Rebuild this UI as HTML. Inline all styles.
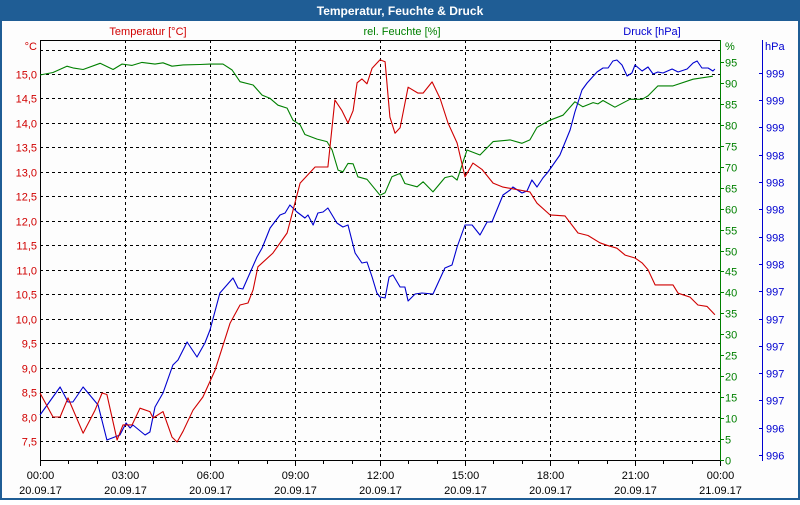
<!DOCTYPE html>
<html><head><meta charset="utf-8"><style>
html,body{margin:0;padding:0;background:#fff;}
body{width:800px;height:500px;overflow:hidden;font-family:"Liberation Sans",sans-serif;}
</style></head><body>
<svg id="chart" width="800" height="500" viewBox="0 0 800 500" xmlns="http://www.w3.org/2000/svg" font-family="Liberation Sans, sans-serif" font-size="11">
<rect x="0" y="0" width="800" height="500" fill="#1f5d95"/>
<rect x="2" y="21" width="796" height="477" fill="#fdfdfd"/>
<text x="400" y="15" text-anchor="middle" fill="#fff" font-weight="bold" font-size="12">Temperatur, Feuchte &amp; Druck</text>
<text x="148" y="35" text-anchor="middle" fill="#d00000">Temperatur [°C]</text>
<text x="402" y="35" text-anchor="middle" fill="#008000">rel. Feuchte [%]</text>
<text x="652" y="35" text-anchor="middle" fill="#0000d0">Druck [hPa]</text>
<text x="37" y="50" text-anchor="end" fill="#d00000">°C</text>
<text x="725" y="50" fill="#008000">%</text>
<text x="765" y="50" fill="#0000d0">hPa</text>
<g id="grid"></g>
<g id="axes"></g>
<g id="series"></g>
</svg>
<script>
const tempTimes=[0,0.46,0.71,0.99,1.52,1.94,2.19,2.36,2.72,2.93,3.25,3.53,3.88,3.99,4.34,4.66,4.84,5.05,5.4,5.75,6.18,6.71,7.06,7.34,7.52,7.69,8.22,8.72,9.18,9.71,10.16,10.41,10.66,10.87,11.05,11.19,11.36,11.54,11.72,12.0,12.18,12.35,12.53,12.71,12.99,13.34,13.52,13.84,14.12,14.4,14.72,15.0,15.28,15.6,15.99,16.34,17.29,17.54,18.0,18.53,18.99,19.34,19.76,20.01,20.36,20.65,21.0,21.25,21.46,21.71,22.34,22.52,22.94,23.22,23.54,23.82];
const tempValues=[8.48,7.99,7.99,8.38,7.66,8.13,8.48,8.45,7.52,7.83,7.83,8.17,8.1,7.97,8.1,7.58,7.48,7.7,8.13,8.4,8.95,9.91,10.28,10.32,10.59,11.06,11.34,11.75,12.77,13.1,13.1,14.47,14.25,14.0,14.25,14.82,14.9,14.8,15.12,15.29,15.25,14.12,13.79,13.9,14.73,14.61,14.61,14.84,14.5,14.0,13.59,12.9,13.18,13.05,12.77,12.69,12.59,12.36,12.12,12.1,11.75,11.7,11.55,11.5,11.44,11.3,11.24,11.14,11.0,10.69,10.69,10.52,10.44,10.28,10.25,10.08];
const humTimes=[0,0.46,0.95,1.16,1.52,2.12,2.58,2.89,3.25,3.6,4.06,4.34,4.66,5.05,5.65,6.0,6.46,6.78,7.06,7.52,7.84,8.12,8.4,8.72,8.93,9.18,9.35,9.78,10.13,10.31,10.52,10.69,10.87,11.05,11.22,11.54,12.0,12.18,12.42,12.71,12.88,13.31,13.52,13.87,14.29,14.54,14.72,15.07,15.53,15.99,16.59,17.01,17.29,17.54,18.0,18.46,18.88,19.16,19.52,19.69,19.87,20.29,20.82,21.25,21.46,21.81,22.34,23.05,23.75];
const humValues=[91.9,92.5,94.0,93.6,93.2,94.7,93.2,94.5,94.2,94.9,94.5,94.8,94.0,94.3,94.4,94.5,94.5,93.1,90.3,89.5,87.1,86.3,84.7,84.0,81.1,80.0,77.7,76.6,76.0,74.0,69.2,68.8,70.8,70.7,67.6,67.0,63.2,63.8,67.6,68.4,66.0,65.2,66.4,64.0,67.4,67.8,66.8,74.0,72.8,76.0,76.4,75.6,76.4,79.4,81.1,82.3,85.5,84.3,85.3,85.0,85.8,84.2,86.1,86.1,86.9,89.3,89.3,90.9,91.6];
const presTimes=[0,0.71,0.99,1.16,1.52,2.05,2.36,2.82,3.04,3.18,3.28,3.71,3.88,4.06,4.34,4.69,4.87,5.19,5.54,5.82,6.0,6.35,6.81,6.99,7.16,7.66,7.84,8.12,8.47,8.65,8.82,9.07,9.35,9.46,9.64,9.81,9.99,10.16,10.48,10.69,10.87,11.12,11.36,11.54,11.72,11.89,12.0,12.18,12.32,12.46,12.71,12.88,12.99,13.24,13.48,13.87,14.29,14.54,14.72,15.0,15.25,15.53,15.78,15.95,16.34,16.59,16.69,17.01,17.19,17.36,17.54,17.75,17.93,18.35,18.71,18.88,19.13,19.31,19.66,19.87,20.05,20.22,20.36,20.54,20.72,20.89,21.0,21.25,21.46,21.64,21.81,21.99,22.31,22.52,22.84,23.05,23.19,23.36,23.58,23.75,23.82];
const presValues=[996.40,996.68,996.53,996.53,996.68,996.5,996.15,996.2,996.32,996.27,996.3,996.2,996.23,996.48,996.62,996.9,996.95,997.13,996.98,997.12,997.25,997.62,997.77,997.67,997.66,997.98,998.07,998.27,998.4,998.42,998.5,998.43,998.37,998.4,998.3,998.42,998.43,998.47,998.32,998.28,998.3,998.02,997.92,997.93,997.78,997.62,997.58,997.57,997.78,997.8,997.68,997.68,997.54,997.61,997.62,997.61,997.87,997.9,998.08,998.3,998.3,998.2,998.33,998.33,998.6,998.65,998.68,998.62,998.64,998.75,998.68,998.77,998.83,999.0,999.25,999.43,999.65,999.72,999.83,999.87,999.87,999.94,999.95,999.9,999.79,999.82,999.9,999.84,999.88,999.81,999.83,999.82,999.86,999.83,999.86,999.92,999.94,999.87,999.87,999.84,999.86];
const tempTicks=["7,5","8,0","8,5","9,0","9,5","10,0","10,5","11,0","11,5","12,0","12,5","13,0","13,5","14,0","14,5","15,0"];
const humTicks=[0,5,10,15,20,25,30,35,40,45,50,55,60,65,70,75,80,85,90,95];
const presTicks=["996","996","997","997","997","997","997","998","998","998","998","998","999","999","999"];
const timeTicks=["00:00","03:00","06:00","09:00","12:00","15:00","18:00","21:00","00:00"];
const dateTicks=["20.09.17","20.09.17","20.09.17","20.09.17","20.09.17","20.09.17","20.09.17","20.09.17","21.09.17"];

const NS="http://www.w3.org/2000/svg";
const L=40,R=720,T=40,B=460;
const xH=h=>L+h*(R-L)/24;
const yT=t=>441-(t-7.5)*48.93;
const yHum=v=>460-v*(398/95);
const yP=p=>455-(p-996)*100;
function mk(tag,attrs,parent){const e=document.createElementNS(NS,tag);for(const k in attrs)e.setAttribute(k,attrs[k]);parent.appendChild(e);return e;}
const grid=document.getElementById('grid'),axes=document.getElementById('axes'),ser=document.getElementById('series');

// horizontal grid lines + temperature labels
for(let i=0;i<=16;i++){
  const v=7.5+i*0.5,y=Math.round(yT(v))+0.5;
  const g=mk('line',{x1:L,x2:R,y1:y,y2:y,stroke:'#000','stroke-dasharray':'3,3','stroke-width':1},grid);
  
  
  if(i<tempTicks.length){
    const t=mk('text',{x:37,y:y+4,'text-anchor':'end',fill:'#d00000'},axes);t.textContent=tempTicks[i];
    
    
  }
}
// vertical grid lines + time labels
for(let i=0;i<timeTicks.length;i++){
  const x=Math.round(xH(i*3))+0.5;
  if(i>0&&i<8){const g=mk('line',{x1:x,x2:x,y1:T,y2:B,stroke:'#000','stroke-dasharray':'3,3','stroke-width':1},grid);
  
  }
  const t1=mk('text',{x:x,y:479,'text-anchor':'middle',fill:'#000'},axes);t1.textContent=timeTicks[i];
  
  
  const t2=mk('text',{x:x,y:494,'text-anchor':'middle',fill:'#000'},axes);t2.textContent=dateTicks[i];
  
  
}
for(let h=0;h<=24;h++){const x=Math.round(xH(h))+0.5;const tk=mk('line',{x1:x,x2:x,y1:B,y2:B+(h%3?4:6),stroke:'#000'},axes);
  
  }
// plot frame
let f;
f=mk('line',{x1:L+0.5,x2:L+0.5,y1:T,y2:B+1,stroke:'#000'},axes);
f=mk('line',{x1:L,x2:R,y1:T+0.5,y2:T+0.5,stroke:'#000'},axes);
f=mk('line',{x1:L,x2:R,y1:B+0.5,y2:B+0.5,stroke:'#000'},axes);
f=mk('line',{x1:R+0.5,x2:R+0.5,y1:T,y2:B+1,stroke:'#008000'},axes);
f=mk('line',{x1:762.5,x2:762.5,y1:T,y2:B+1,stroke:'#0000d0'},axes);
// humidity ticks
humTicks.forEach(v=>{const y=Math.round(yHum(v))+0.5;
  const tk=mk('line',{x1:R,x2:R+4,y1:y,y2:y,stroke:'#008000'},axes);
  
  
  const t=mk('text',{x:725,y:y+4,fill:'#008000'},axes);t.textContent=v;
  
  });
// pressure ticks
presTicks.forEach((v,i)=>{const y=Math.round(455-i*27.3)+0.5;
  const tk=mk('line',{x1:759,x2:763,y1:y,y2:y,stroke:'#0000d0'},axes);
  
  
  const t=mk('text',{x:766,y:y+4,fill:'#0000d0'},axes);t.textContent=v;
  
  });
// series
function line(times,vals,fy,color,name){
  const pts=times.map((h,i)=>xH(h).toFixed(1)+','+fy(vals[i]).toFixed(1)).join(' ');
  const p=mk('polyline',{points:pts,fill:'none',stroke:color,'stroke-width':1.1,'stroke-linejoin':'round'},ser);
  
  
}
line(humTimes,humValues,yHum,'#008000','humidity-line');
line(presTimes,presValues,yP,'#0000d0','pressure-line');
line(tempTimes,tempValues,yT,'#d00000','temperature-line');
</script>
</body></html>
